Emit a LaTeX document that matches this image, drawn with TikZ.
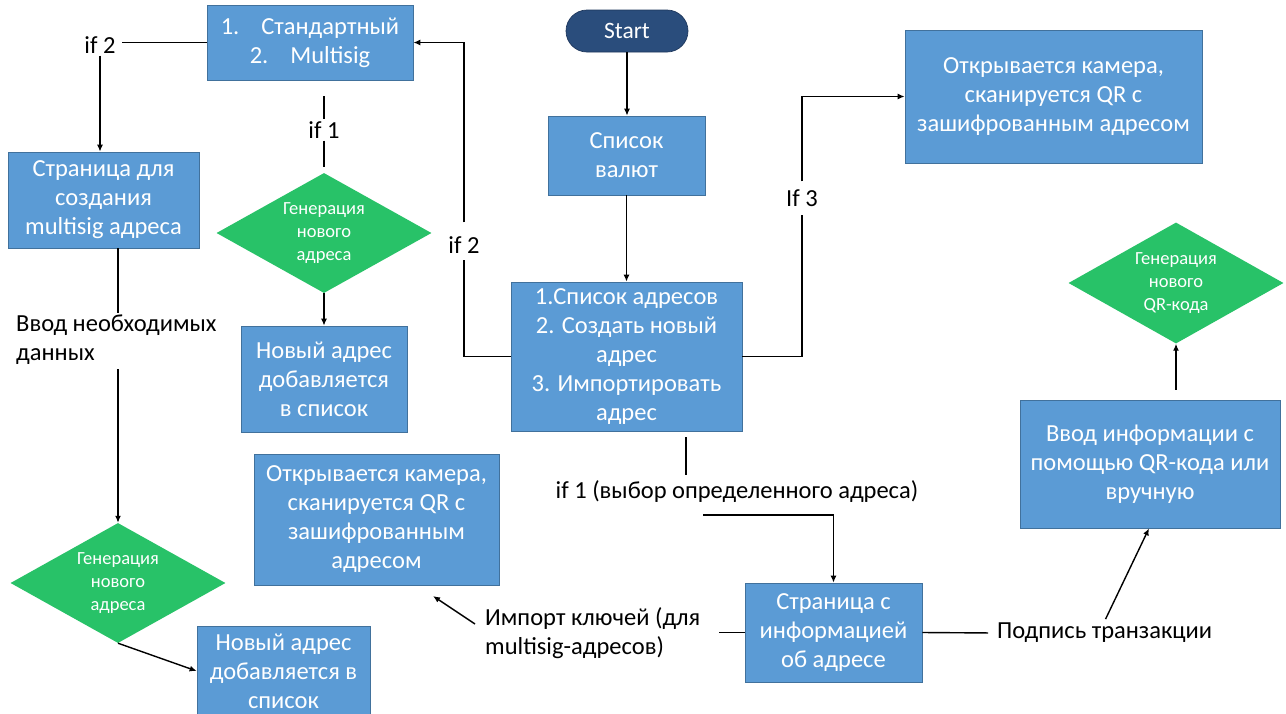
\documentclass[tikz,border=0pt]{standalone}
\usepackage{fontspec}
\setmainfont{Carlito}
\usetikzlibrary{arrows.meta,shapes.geometric,calc}
\definecolor{boxfill}{RGB}{91,155,213}
\definecolor{boxline}{RGB}{65,113,156}
\definecolor{gfill}{RGB}{40,194,104}
\definecolor{sfill}{RGB}{42,77,124}
\definecolor{sline}{RGB}{30,55,92}
\begin{document}
\begin{tikzpicture}[x=1pt,y=-1pt,
 box/.style={draw=boxline, line width=0.7pt, fill=boxfill, text=white, align=center, inner sep=0pt, font=\fontsize{24.5}{29}\selectfont},
 dia/.style={diamond, draw=none, fill=gfill, inner sep=0pt},
 dtext/.style={text=white, align=center, font=\fontsize{18.5}{23}\selectfont},
 lbl/.style={text=black, inner sep=2pt, font=\fontsize{24.5}{29}\selectfont},
 conn/.style={line width=1.4pt, black},
 arr/.style={conn, -{Latex[length=7pt,width=6pt]}}]
\useasboundingbox (0,0) rectangle (1286,713);
\fill[white] (0,0) rectangle (1286,713);

% boxes
\node[box, minimum width=206pt, minimum height=75pt] (std) at (310,42.5) {1.\hspace{22pt}Стандартный\\2.\hspace{22pt}Multisig};
\node[box, minimum width=191pt, minimum height=96pt] (msp) at (103.5,200) {Страница для\\создания\\multisig адреса};
\node[box, minimum width=173pt, minimum height=90pt] (nl1) at (283.5,671) {Новый адрес\\добавляется в\\список};
\node[box, minimum width=166pt, minimum height=106pt] (nl2) at (324,379) {Новый адрес\\добавляется\\в список};
\node[box, minimum width=245pt, minimum height=131pt] (cam1) at (376.5,519.5) {Открывается камера,\\сканируется QR с\\зашифрованным\\адресом};
\node[draw=sline, line width=0.7pt, fill=sfill, text=white, rounded corners=21pt, minimum width=122pt, minimum height=42pt, inner sep=0pt, font=\fontsize{23.5}{28}\selectfont] (start) at (627,31) {Start};
\node[box, minimum width=157pt, minimum height=79pt] (cur) at (626.5,155.5) {Список\\валют};
\node[box, minimum width=231pt, minimum height=149pt] (menu) at (626.5,356.5) {1.Список адресов\\2. Создать новый\\адрес\\3. Импортировать\\адрес};
\node[box, minimum width=297pt, minimum height=133pt] (cam2) at (1053.5,96.5) {Открывается камера,\\сканируется QR с\\зашифрованным адресом};
\node[box, minimum width=177pt, minimum height=99pt] (info) at (833.5,632.5) {Страница с\\информацией\\об адресе};
\node[box, minimum width=260pt, minimum height=128pt] (input) at (1150,464) {Ввод информации с\\помощью QR-кода или\\вручную};

% diamonds
\node[dia, minimum width=215pt, minimum height=120pt] (d1) at (118,583) {};
\node[dtext] at (d1) {Генерация\\нового\\адреса};
\node[dia, minimum width=215pt, minimum height=120pt] (d2) at (324,233) {};
\node[dtext] at (d2) {Генерация\\нового\\адреса};
\node[dia, minimum width=215pt, minimum height=121pt] (d3) at (1176,283) {};
\node[dtext] at (d3) {Генерация\\нового\\QR-кода};

% labels
\node[lbl] (if2a) at (100,45) {if 2};
\node[lbl] (if1a) at (324,130) {if 1};
\node[lbl, align=left, anchor=west] (vvod) at (14,340) {Ввод необходимых\\данных};
\node[lbl] (if2b) at (464,245) {if 2};
\node[lbl] (if3) at (802,198) {If 3};
\node[lbl] (if1b) at (737,492) {if 1 (выбор определенного адреса)};
\node[lbl, align=left, anchor=west] (imp) at (483,633) {Импорт ключей (для\\multisig-адресов)};
\node[lbl, anchor=west] (sign) at (995,633) {Подпись транзакции};

% connectors
\draw[conn, shorten >=4pt] (std.west) -- (if2a.east |- std.west);
\draw[arr] (if2a.south) -- (if2a.south |- msp.north);
\draw[conn, shorten <=16pt] (std.south -| if1a) -- (if1a.north);
\draw[conn, shorten >=6pt] (if1a.south) -- (d2.north);
\draw[arr] (d2.south) -- (nl2.north);
\draw[conn] (msp.south -| d1.north) -- (vvod.north -| d1.north);
\draw[arr, shorten <=2pt] (vvod.south -| d1.north) -- (d1.north);
\draw[arr] (d1.south) -- (nl1.west);
\draw[arr] (start.south) -- (start.south |- cur.north);
\draw[arr] (cur.south) -- (menu.north);
\draw[conn, shorten >=4pt] (menu.west) -| (if2b.south);
\draw[arr, shorten <=12pt] (if2b.north) |- (std.east);
\draw[conn, shorten >=6pt] (menu.east) -| (if3.south);
\draw[arr, shorten <=6pt] (if3.north) |- (cam2.west);
\coordinate (m1) at (686,431);
\draw[conn, shorten <=6pt, shorten >=4pt] (m1) -- (if1b.north -| m1);
\coordinate (p1) at (703,515);
\draw[arr] (p1) -| (info.north);
\draw[conn] (info.west) -- ++(-26,0);
\coordinate (c1) at (433,596);
\draw[arr] ($(imp.west)+(-8,-9)$) -- (c1);
\draw[conn, shorten >=7pt] (info.east) -- (sign.west);
\draw[arr, shorten <=2pt] (sign.north) -- ([xshift=-1pt]input.south);
\draw[arr, shorten <=10pt] (input.north -| d3.south) -- (d3.south);
\end{tikzpicture}
\end{document}
